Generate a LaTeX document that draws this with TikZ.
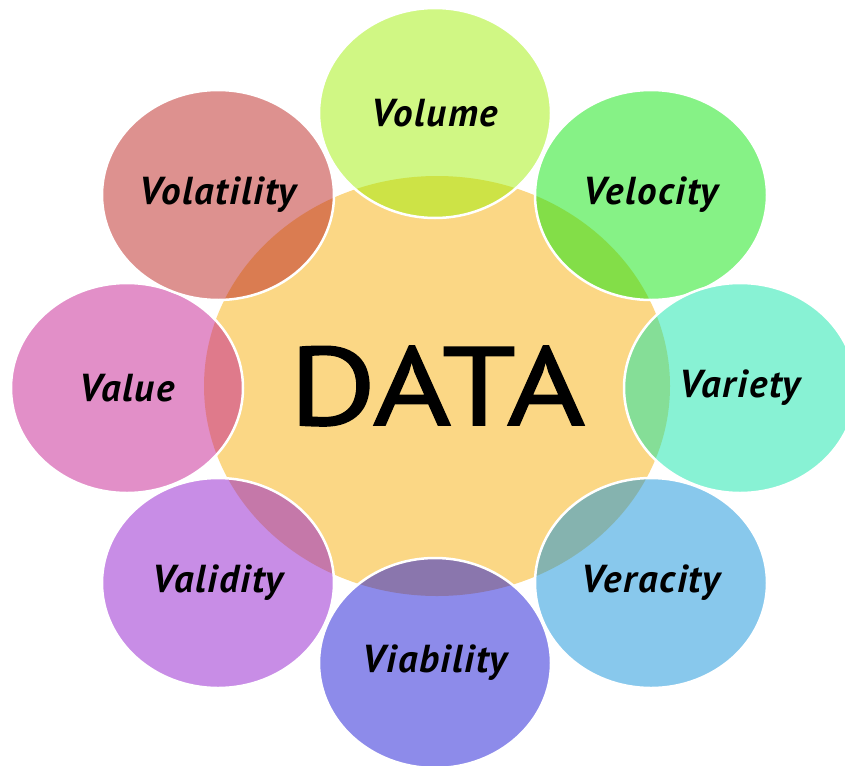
\documentclass[tikz,border=0pt]{standalone}
\usepackage{fontspec}
\usetikzlibrary{shapes.geometric}

\newfontfamily\labelfont[LetterSpace=4]{PT Sans}
\newfontfamily\datafont[FakeStretch=1.2, FakeBold=1.5]{PT Sans}

% fill colours, laid on at half opacity
\definecolor{datafill}{RGB}{251,215,133}
\definecolor{volumefill}{RGB}{161,239,9}
\definecolor{velocityfill}{RGB}{13,229,13}
\definecolor{varietyfill}{RGB}{17,229,169}
\definecolor{veracityfill}{RGB}{17,145,217}
\definecolor{viabilityfill}{RGB}{27,23,213}
\definecolor{validityfill}{RGB}{145,27,205}
\definecolor{valuefill}{RGB}{197,31,145}
\definecolor{volatilityfill}{RGB}{187,35,31}

\tikzset{
    core/.style={ellipse, fill=datafill, inner sep=0pt,
        minimum width=466pt, minimum height=420pt,
        font=\datafont\fontsize{111}{111}\selectfont},
    bubble/.style={ellipse, draw=white, line width=2.5pt,
        fill opacity=0.5, text opacity=1, inner sep=0pt,
        minimum width=232pt, minimum height=210pt,
        font=\labelfont\bfseries\itshape\fontsize{39}{39}\selectfont},
}

\begin{document}
\begin{tikzpicture}[x=1pt, y=-1pt]
    \useasboundingbox (0,0) rectangle (845,765);

    % Draw the centre
    \node[core] (data) at (437,386) {DATA};

    % Draw the ring of V's, clockwise from the top
    \node[bubble, fill=volumefill]     (volume)     at (435,113) {Volume};
    \node[bubble, fill=velocityfill]   (velocity)   at (651,195) {Velocity};
    \node[bubble, fill=varietyfill]    (variety)    at (740,388) {Variety};
    \node[bubble, fill=veracityfill]   (veracity)   at (651,583) {Veracity};
    \node[bubble, fill=viabilityfill]  (viability)  at (435,663) {Viability};
    \node[bubble, fill=validityfill]   (validity)   at (218,583) {Validity};
    \node[bubble, fill=valuefill]      (value)      at (127,388) {Value};
    \node[bubble, fill=volatilityfill] (volatility) at (218,195) {Volatility};
\end{tikzpicture}
\end{document}
